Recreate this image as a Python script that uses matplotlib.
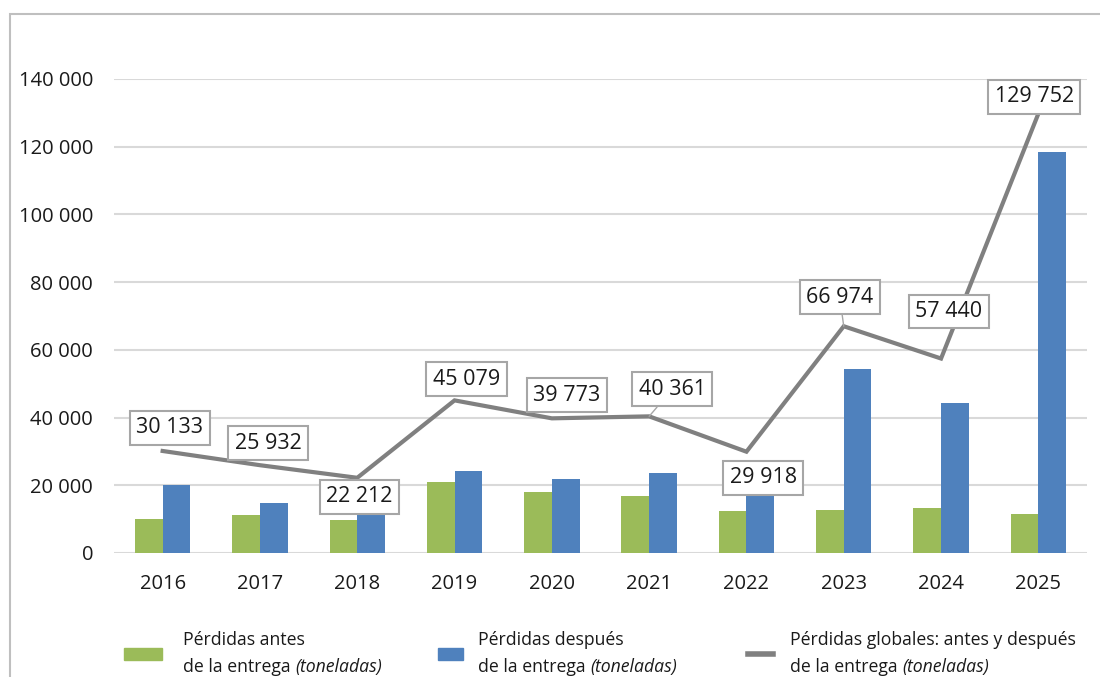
import numpy as np
import matplotlib
matplotlib.use("Agg")
import matplotlib.pyplot as plt
from matplotlib.patches import Rectangle
from matplotlib.lines import Line2D

years = ['2016', '2017', '2018', '2019', '2020', '2021', '2022', '2023', '2024', '2025']
antes = [10100, 11200, 9600, 20900, 18000, 16800, 12300, 12600, 13200, 11500]
despues = [20000, 14700, 12600, 24200, 21800, 23600, 17600, 54400, 44200, 118300]
globales = [30133, 25932, 22212, 45079, 39773, 40361, 29918, 66974, 57440, 129752]
y_ticks = [0, 20000, 40000, 60000, 80000, 100000, 120000, 140000]

legend_labels = [('Pérdidas antes', 'de la entrega '),
                 ('Pérdidas después', 'de la entrega '),
                 ('Pérdidas globales: antes y después', 'de la entrega ')]

GREEN = '#9BBB59'
BLUE = '#4F81BD'
GRAY = '#808080'

plt.rcParams['font.family'] = ['Open Sans', 'DejaVu Sans']

fig = plt.figure(figsize=(11, 6.77), dpi=100)
ax = fig.add_axes([114 / 1100, 1 - 553 / 677, (1087 - 114) / 1100, (553 - 79) / 677])

x = np.arange(len(years))
w = 0.285
ax.bar(x - w / 2, antes, w, color=GREEN, zorder=2)
ax.bar(x + w / 2, despues, w, color=BLUE, zorder=2)
ax.plot(x, globales, color=GRAY, lw=3, zorder=3, solid_joinstyle='miter')

# label offsets in pixels (dx, dy)
offsets = [(7, 23), (8, 22), (2, -19), (12, 21), (15, 23), (23, 27),
           (17, -26), (-4, 29), (8, 47), (-4, 17)]
leaders = {5, 7}
for i, (v, off) in enumerate(zip(globales, offsets)):
    kw = {}
    if i in leaders:
        kw['arrowprops'] = dict(arrowstyle='-', color='#a6a6a6', lw=1,
                                shrinkA=0, shrinkB=0)
    ax.annotate(f"{v:,}".replace(',', ' '), (i, v), xytext=off,
                textcoords='offset pixels', ha='center', va='center',
                fontsize=15.5, color='#1a1a1a', zorder=5,
                bbox=dict(boxstyle='square,pad=0.3', fc='white',
                          ec='#a6a6a6', lw=1.5), **kw)

ax.set_xlim(-0.5, len(years) - 0.5)
ax.set_ylim(0, 140000)
ax.set_yticks(y_ticks)
ax.set_yticklabels([f"{v:,}".replace(',', ' ') for v in y_ticks])
ax.set_xticks(x)
ax.set_xticklabels(years)
ax.tick_params(axis='both', length=0, labelsize=14.5, colors='#1a1a1a')
ax.tick_params(axis='y', pad=15)
ax.tick_params(axis='x', pad=15)
ax.grid(axis='y', color='#d9d9d9', lw=1.5, zorder=0)
for s in ax.spines.values():
    s.set_visible(False)

# outer border
fig.add_artist(Rectangle((10 / 1100, -0.1), 1.1, 1 - 14 / 677 + 0.1,
                         transform=fig.transFigure, fill=False,
                         ec='#bfbfbf', lw=1.5))

# legend drawn by hand
leg_size = 12.7
fig.add_artist(Rectangle((124 / 1100, 1 - 660 / 677), 38 / 1100, 12 / 677,
                         transform=fig.transFigure, color=GREEN))
fig.add_artist(Rectangle((438 / 1100, 1 - 660 / 677), 25 / 1100, 12 / 677,
                         transform=fig.transFigure, color=BLUE))
fig.add_artist(Line2D([748 / 1100, 773 / 1100], [1 - 654 / 677] * 2,
                      transform=fig.transFigure, color=GRAY, lw=4))

text_x = [183, 478, 790]
fig.canvas.draw()
renderer = fig.canvas.get_renderer()
for tx, (l1, l2) in zip(text_x, legend_labels):
    fig.text(tx / 1100, 1 - 640 / 677, l1, fontsize=leg_size,
             va='center', ha='left', color='#1a1a1a')
    t2 = fig.text(tx / 1100, 1 - 667 / 677, l2, fontsize=leg_size,
                  va='center', ha='left', color='#1a1a1a')
    bb = t2.get_window_extent(renderer)
    fig.text(bb.x1 / 1100, 1 - 667 / 677, '(toneladas)', fontsize=leg_size,
             style='italic', va='center', ha='left', color='#1a1a1a')

fig.savefig('out.png', dpi=100)
